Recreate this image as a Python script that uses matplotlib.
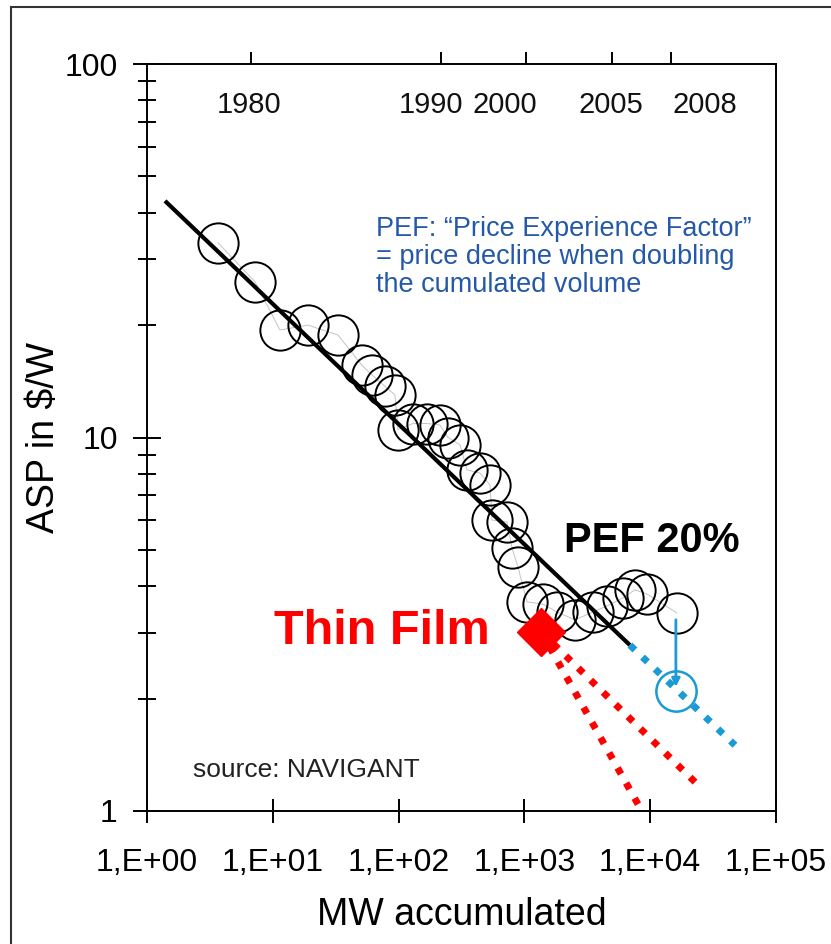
import matplotlib
matplotlib.use("Agg")
import matplotlib.pyplot as plt
from matplotlib.patches import Rectangle
from matplotlib.ticker import FixedLocator, FixedFormatter, NullFormatter

plt.rcParams['font.family'] = ['Liberation Sans', 'DejaVu Sans']

# ---- data ----
mw_accumulated = [3.67, 7.22, 11.4, 19.0, 33.0, 51.2, 61.5, 78.0, 93.6, 98.9,
                  130, 168, 213, 247, 308, 350, 444, 533, 553, 727, 797, 889,
                  1049, 1406, 1816, 2525, 3510, 4536, 6078, 7570, 9431, 16330]
asp_usd_per_w = [33.2, 26.1, 19.4, 20.0, 18.8, 15.6, 14.7, 13.7, 13.0, 10.5,
                 10.9, 10.9, 10.8, 10.0, 9.55, 8.19, 8.03, 7.46, 6.01, 5.94, 5.06, 4.50,
                 3.63, 3.58, 3.41, 3.25, 3.41, 3.54, 3.72, 3.91, 3.81, 3.39]

trend_x = [1.39, 6900]
trend_y = [43.0, 2.78]
trend_ext_x = [6900, 47200]
trend_ext_y = [2.78, 1.50]

forecast_x = [16000]
forecast_y = [2.10]
arrow_x = [16000, 16000]
arrow_y = [3.25, 2.15]

thinfilm_x = [1355]
thinfilm_y = [3.02]
thinfilm_a_x = [1355, 8300]
thinfilm_a_y = [3.02, 1.02]
thinfilm_b_x = [1355, 24900]
thinfilm_b_y = [3.02, 1.16]

x_ticks = [1, 10, 100, 1000, 10000, 100000]
x_tick_labels = ["1,E+00", "1,E+01", "1,E+02", "1,E+03", "1,E+04", "1,E+05"]
y_ticks = [1, 10, 100]
y_tick_labels = ["1", "10", "100"]
y_minor = [m * d for d in (1, 10) for m in range(2, 10)]

year_ticks = [6.7, 217, 1031, 4970, 14630]
year_labels = ["1980", "1990", "2000", "2005", "2008"]
year_label_x = [6.47, 181, 701, 4880, 27300]

BLUE = '#1b9ad6'
TEXTBLUE = '#2458a8'
RED = '#ff0000'

fig = plt.figure(figsize=(8.31, 9.44), dpi=100)
ax = fig.add_axes([147/831, 1-811/944, 629/831, 747/944])
ax.set_xscale('log')
ax.set_yscale('log')
ax.set_xlim(1, 1e5)
ax.set_ylim(1, 100)

# data line and circles
ax.plot(mw_accumulated, asp_usd_per_w, color='#c4c4c4', lw=0.7, zorder=2)
ax.plot(mw_accumulated, asp_usd_per_w, 'o', ms=29, mfc='none', mec='black',
        mew=1.4, zorder=3, clip_on=False)

# trend line
ax.plot(trend_x, trend_y, color='black', lw=3, zorder=4, solid_capstyle='butt')
ax.plot(trend_ext_x, trend_ext_y, color=BLUE, lw=5, ls=(0, (1, 1.5)), zorder=4)

# forecast
ax.plot(forecast_x, forecast_y, 'o', ms=29, mfc='none', mec=BLUE, mew=1.8, zorder=5)
ax.annotate('', xy=(arrow_x[1], arrow_y[1]), xytext=(arrow_x[0], arrow_y[0]),
            arrowprops=dict(arrowstyle='-|>', color=BLUE, lw=2, mutation_scale=12,
                            shrinkA=0, shrinkB=0), zorder=5)

# thin film
ax.plot(thinfilm_a_x, thinfilm_a_y, color=RED, lw=5, ls=(0, (1, 1.5)), zorder=5)
ax.plot(thinfilm_b_x, thinfilm_b_y, color=RED, lw=5, ls=(0, (1, 1.5)), zorder=5)
ax.plot(thinfilm_x, thinfilm_y, 'D', ms=24, color=RED, zorder=6)

# ticks
ax.xaxis.set_major_locator(FixedLocator(x_ticks))
ax.xaxis.set_major_formatter(FixedFormatter(x_tick_labels))
ax.xaxis.set_minor_locator(FixedLocator([]))
ax.yaxis.set_major_locator(FixedLocator(y_ticks))
ax.yaxis.set_major_formatter(FixedFormatter(y_tick_labels))
ax.yaxis.set_minor_locator(FixedLocator(y_minor))
ax.yaxis.set_minor_formatter(NullFormatter())
ax.tick_params(axis='x', which='major', direction='inout', length=17, width=1.4,
               labelsize=23, pad=18, top=False)
ax.tick_params(axis='y', which='major', direction='inout', length=20, width=1.4,
               labelsize=23, pad=11, right=False)
ax.tick_params(axis='y', which='minor', direction='inout', length=13, width=1.4,
               right=False)
for s in ax.spines.values():
    s.set_linewidth(1.4)

ax.set_xlabel('MW accumulated', fontsize=27, labelpad=14)
ax.set_ylabel('ASP in $/W', fontsize=27, labelpad=2)

# top year axis
top = ax.twiny()
top.set_xscale('log')
top.set_xlim(1, 1e5)
top.xaxis.set_major_locator(FixedLocator(year_ticks))
top.xaxis.set_major_formatter(NullFormatter())
top.xaxis.set_minor_locator(FixedLocator([]))
top.tick_params(axis='x', which='major', direction='out', length=9, width=1.4)
for s in top.spines.values():
    s.set_visible(False)
for xl, lab in zip(year_label_x, year_labels):
    ax.text(xl, 0.945, lab, transform=ax.get_xaxis_transform(), fontsize=21,
            ha='center', va='center', color='#111111')

# annotations
fig.text(376/831, 1-257/944, 'PEF: \u201cPrice Experience Factor\u201d\n= price decline when doubling\nthe cumulated volume',
         fontsize=19.5, color=TEXTBLUE, ha='left', va='center', linespacing=1.1)
fig.text(652/831, 1-541/944, 'PEF 20%', fontsize=30, fontweight='bold', color='black',
         ha='center', va='center')
fig.text(382/831, 1-632/944, 'Thin Film', fontsize=35, fontweight='bold', color=RED,
         ha='center', va='center')
fig.text(193/831, 1-770/944, 'source: NAVIGANT', fontsize=19, color='#222222',
         ha='left', va='center')

# outer frame
fig.add_artist(Rectangle((11/831, -0.05), 2, 1 - 7/944 + 0.05, transform=fig.transFigure,
                         fill=False, lw=1.5, ec='#333333'))

fig.savefig('out.png', dpi=100)
